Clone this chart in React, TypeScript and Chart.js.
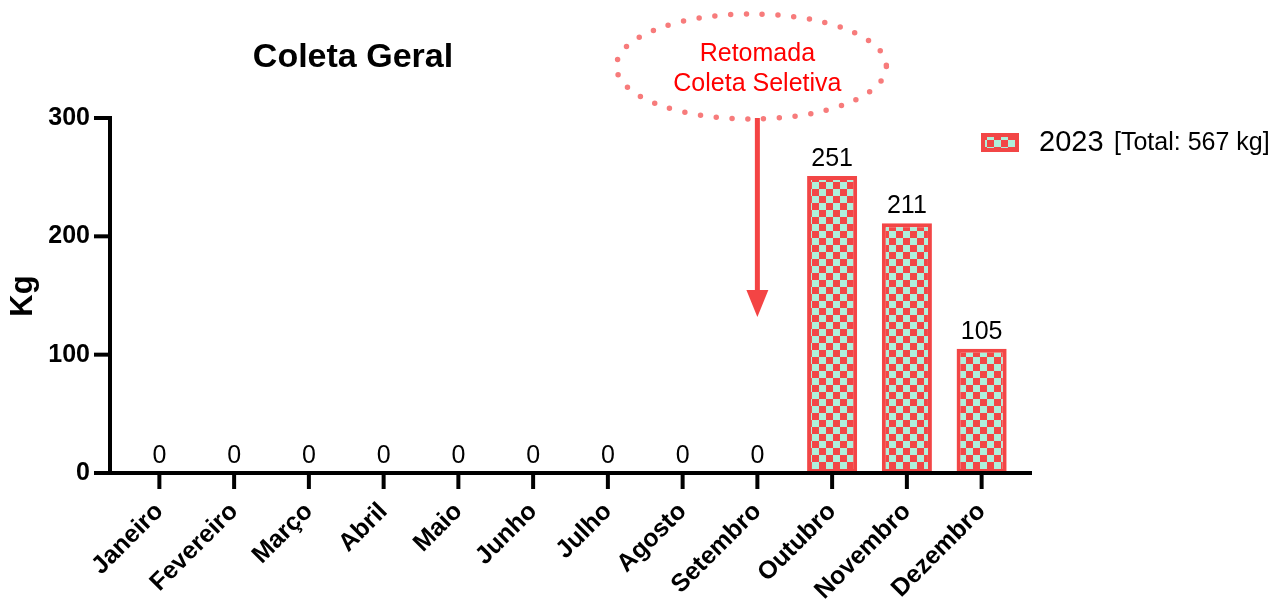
import React, { useEffect, useRef } from 'react';
import { Chart, registerables } from 'chart.js';

Chart.register(...registerables);

const FONT = "'Liberation Sans', Arial, Helvetica, sans-serif";

const months = ['Janeiro', 'Fevereiro', 'Março', 'Abril', 'Maio', 'Junho', 'Julho', 'Agosto', 'Setembro', 'Outubro', 'Novembro', 'Dezembro'];
const values2023 = [0, 0, 0, 0, 0, 0, 0, 0, 0, 251, 211, 105];
const yTickValues = [0, 100, 200, 300];
const seriesLabel = '2023';
const totalLabel = '[Total: 567 kg]';
const chartTitle = 'Coleta Geral';
const yAxisTitle = 'Kg';
const annotationLines = ['Retomada', 'Coleta Seletiva'];
const annotationMonth = 'Setembro';

const RED = '#F24646';
const MINT = '#AEF0DB';
const ARROW_RED = '#F44444';
const DOT_RED = '#F77B7B';
const TEXT_RED = '#FF0000';

function makePattern(ctx: CanvasRenderingContext2D): CanvasPattern | string {
  const c = document.createElement('canvas');
  c.width = 14;
  c.height = 14;
  const p = c.getContext('2d');
  if (!p) return RED;
  p.fillStyle = RED;
  p.fillRect(0, 0, 14, 14);
  p.fillStyle = MINT;
  p.fillRect(0, 0, 7, 7);
  p.fillRect(7, 7, 7, 7);
  return ctx.createPattern(c, 'repeat') || RED;
}

const decorPlugin = {
  id: 'decor',
  afterDraw(chart: any) {
    const ctx: CanvasRenderingContext2D = chart.ctx;
    const xs = chart.scales.x;
    const ys = chart.scales.y;
    const y0 = ys.getPixelForValue(0);
    const yAxisX = 110;

    ctx.save();
    // axes
    ctx.strokeStyle = '#000';
    ctx.lineWidth = 4;
    ctx.lineCap = 'butt';
    ctx.beginPath();
    ctx.moveTo(yAxisX, ys.getPixelForValue(300) - 2);
    ctx.lineTo(yAxisX, y0);
    ctx.stroke();
    yTickValues.forEach((v) => {
      const py = ys.getPixelForValue(v);
      ctx.beginPath();
      ctx.moveTo(94, py);
      ctx.lineTo(yAxisX, py);
      ctx.stroke();
    });
    ctx.beginPath();
    ctx.moveTo(94, y0);
    ctx.lineTo(1032, y0);
    ctx.stroke();
    months.forEach((_, i) => {
      const px = xs.getPixelForValue(i);
      ctx.beginPath();
      ctx.moveTo(px, y0);
      ctx.lineTo(px, y0 + 16);
      ctx.stroke();
    });

    // data labels
    const meta = chart.getDatasetMeta(0);
    ctx.fillStyle = '#000';
    ctx.font = `25px ${FONT}`;
    ctx.textAlign = 'center';
    ctx.textBaseline = 'alphabetic';
    meta.data.forEach((bar: any, i: number) => {
      ctx.fillText(String(values2023[i]), bar.x, bar.y - 10);
    });

    // title
    ctx.font = `bold 34px ${FONT}`;
    ctx.textAlign = 'center';
    ctx.textBaseline = 'middle';
    ctx.fillText(chartTitle, 353, 58);

    // y axis title
    ctx.save();
    ctx.translate(23, 296);
    ctx.rotate(-Math.PI / 2);
    ctx.font = `bold 31px ${FONT}`;
    ctx.textAlign = 'center';
    ctx.textBaseline = 'middle';
    ctx.fillText(yAxisTitle, 0, 0);
    ctx.restore();

    // legend
    const pat = makePattern(ctx);
    ctx.fillStyle = pat as any;
    ctx.fillRect(981, 133, 38, 19);
    ctx.strokeStyle = RED;
    ctx.lineWidth = 4;
    ctx.strokeRect(983, 135, 34, 15);
    ctx.fillStyle = '#000';
    ctx.textAlign = 'left';
    ctx.textBaseline = 'middle';
    ctx.font = `29px ${FONT}`;
    ctx.fillText(seriesLabel, 1039, 143);
    ctx.font = `25px ${FONT}`;
    ctx.fillText(totalLabel, 1114, 143);

    // annotation
    const ai = months.indexOf(annotationMonth);
    const ax = xs.getPixelForValue(ai);
    ctx.strokeStyle = DOT_RED;
    ctx.lineWidth = 5.5;
    ctx.lineCap = 'round';
    ctx.setLineDash([0, 15.8]);
    ctx.beginPath();
    ctx.ellipse(ax - 6, 66.5, 135, 52.5, 0, 0, Math.PI * 2);
    ctx.stroke();
    ctx.setLineDash([]);
    ctx.fillStyle = TEXT_RED;
    ctx.textAlign = 'center';
    ctx.textBaseline = 'middle';
    ctx.font = `25px ${FONT}`;
    ctx.fillText(annotationLines[0], ax, 54);
    ctx.fillText(annotationLines[1], ax, 84);

    // arrow
    ctx.strokeStyle = ARROW_RED;
    ctx.fillStyle = ARROW_RED;
    ctx.lineWidth = 5;
    ctx.lineCap = 'butt';
    ctx.beginPath();
    ctx.moveTo(ax, 118);
    ctx.lineTo(ax, 292);
    ctx.stroke();
    ctx.beginPath();
    ctx.moveTo(ax - 11, 290);
    ctx.lineTo(ax + 11, 290);
    ctx.lineTo(ax, 317);
    ctx.closePath();
    ctx.fill();

    ctx.restore();
  },
};

export default function App() {
  const ref = useRef<HTMLCanvasElement | null>(null);

  useEffect(() => {
    document.body.style.margin = '0';
    const canvas = ref.current;
    if (!canvas) return;
    const ctx = canvas.getContext('2d');
    if (!ctx) return;
    const pattern = makePattern(ctx);

    const chart = new Chart(canvas, {
      type: 'bar',
      data: {
        labels: months,
        datasets: [
          {
            label: seriesLabel,
            data: values2023,
            backgroundColor: pattern as any,
            borderColor: RED,
            borderWidth: 4,
            borderSkipped: false,
            barPercentage: 0.67,
            categoryPercentage: 1,
          },
        ],
      },
      options: {
        responsive: false,
        animation: false,
        devicePixelRatio: 1,
        layout: { padding: { left: 0, top: 118, right: 263, bottom: 0 } },
        plugins: {
          legend: { display: false },
          title: { display: false },
          tooltip: { enabled: false },
        },
        scales: {
          x: {
            offset: true,
            grid: { display: false, drawTicks: false },
            border: { display: false },
            ticks: {
              color: '#000',
              font: { family: FONT, size: 25, weight: 'bold' },
              minRotation: 45,
              maxRotation: 45,
              autoSkip: false,
              padding: 24,
            },
            afterFit: (s: any) => {
              s.height = 131;
            },
          },
          y: {
            min: 0,
            max: 300,
            grid: { display: false, drawTicks: false },
            border: { display: false },
            ticks: {
              color: '#000',
              font: { family: FONT, size: 25, weight: 'bold' },
              stepSize: 100,
              padding: 32,
            },
            afterBuildTicks: (s: any) => {
              s.ticks = yTickValues.map((v) => ({ value: v }));
            },
            afterFit: (s: any) => {
              s.width = 122;
            },
          },
        },
      },
      plugins: [decorPlugin],
    });

    return () => chart.destroy();
  }, []);

  return (
    <div style={{ width: 1282, height: 604 }}>
      <canvas ref={ref} width={1282} height={604} style={{ display: 'block' }} />
    </div>
  );
}
